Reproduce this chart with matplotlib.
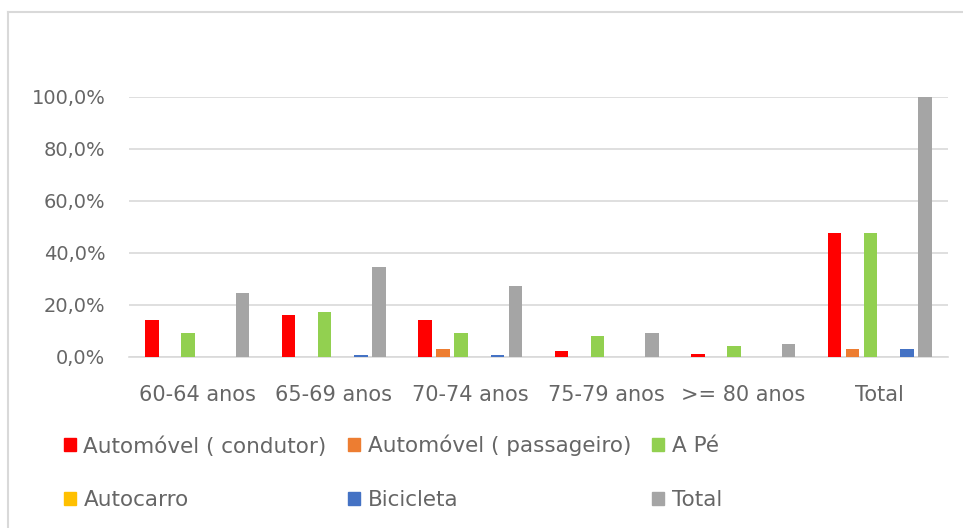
import matplotlib.pyplot as plt
import numpy as np
from matplotlib.patches import Patch
from matplotlib.lines import Line2D
from matplotlib.ticker import FuncFormatter

categories = ["60-64 anos", "65-69 anos", "70-74 anos", "75-79 anos", ">= 80 anos", "Total"]
series_names = ["Automóvel ( condutor)", "Automóvel ( passageiro)", "A Pé",
                "Autocarro", "Bicicleta", "Total"]
condutor = [14.3, 16.2, 14.3, 2.2, 1.2, 47.8]
passageiro = [0.0, 0.0, 3.1, 0.0, 0.0, 3.0]
a_pe = [9.1, 17.5, 9.1, 8.2, 4.1, 47.8]
autocarro = [0.0, 0.0, 0.0, 0.0, 0.0, 0.0]
bicicleta = [0.0, 0.8, 0.7, 0.0, 0.0, 3.0]
total = [24.5, 34.8, 27.5, 9.2, 5.0, 100.0]

colors = ["#FF0000", "#ED7D31", "#92D050", "#FFC000", "#4472C4", "#A5A5A5"]
text_color = "#666666"
grid_color = "#D9D9D9"

W, H = 963, 528
fig = plt.figure(figsize=(W / 100, H / 100), dpi=100)
plt.rcParams["font.family"] = ["DejaVu Sans"]

ax = fig.add_axes([129 / W, (H - 357) / H, (948 - 129) / W, (357 - 97) / H])

values = [condutor, passageiro, a_pe, autocarro, bicicleta, total]
x = np.arange(len(categories))
step = 0.133
width = 0.099
for i, (vals, col) in enumerate(zip(values, colors)):
    ax.bar(x + (i - 2.5) * step, vals, width=width, color=col, zorder=3)

ax.set_xlim(-0.5, len(categories) - 0.5)
ax.set_ylim(0, 100)
ax.set_yticks(np.arange(0, 101, 20))
ax.yaxis.set_major_formatter(FuncFormatter(lambda v, _: f"{v:.1f}%".replace(".", ",")))
ax.set_xticks(x)
ax.set_xticklabels(categories)

ax.yaxis.grid(True, color=grid_color, lw=1.2, zorder=0)
for side in ["top", "right", "left"]:
    ax.spines[side].set_visible(False)
ax.spines["bottom"].set_color(grid_color)
ax.spines["bottom"].set_linewidth(1.2)
ax.tick_params(axis="both", length=0, colors=text_color)
ax.tick_params(axis="y", pad=17, labelsize=14)
ax.tick_params(axis="x", pad=20, labelsize=15)

# legend: two rows, three columns (handles ordered column by column)
handles = [Patch(color=c) for c in colors]
order = [0, 3, 1, 4, 2, 5]
leg = fig.legend([handles[k] for k in order], [series_names[k] for k in order],
                 ncol=3, loc="upper left", bbox_to_anchor=(64 / W, 1 - 435 / H),
                 frameon=False, fontsize=15.5, handlelength=0.55, handleheight=0.55,
                 handletextpad=0.35, columnspacing=1.0, labelspacing=1.55,
                 borderpad=0, borderaxespad=0)
for t in leg.get_texts():
    t.set_color(text_color)

# chart area border (left and top edges)
fig.add_artist(Line2D([8 / W, 8 / W], [0, 1 - 12 / H], transform=fig.transFigure,
                      color=grid_color, lw=1.5))
fig.add_artist(Line2D([8 / W, 1], [1 - 12 / H, 1 - 12 / H], transform=fig.transFigure,
                      color=grid_color, lw=1.5))

fig.savefig("out.png", dpi=100, facecolor="white")
